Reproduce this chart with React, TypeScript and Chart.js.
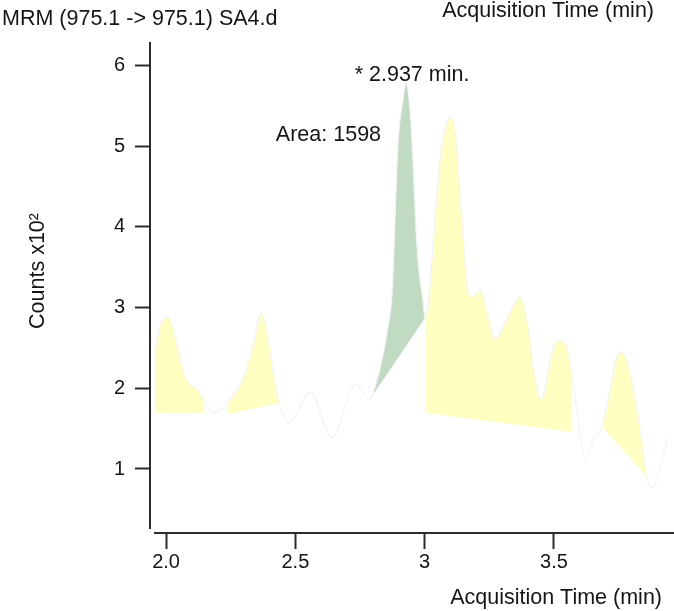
import React, { useEffect, useRef } from "react";
import { Chart, registerables } from "chart.js";

Chart.register(...registerables);

// Chromatogram trace (acquisition time in min, counts x10^2)
const TIME = [
  1.957, 1.977, 2.0, 2.023, 2.046, 2.073, 2.12, 2.147, 2.182, 2.24,
  2.286, 2.313, 2.344, 2.367, 2.39, 2.414, 2.437, 2.479, 2.557, 2.642,
  2.731, 2.789, 2.808, 2.835, 2.858, 2.874, 2.889, 2.897, 2.916, 2.928,
  2.943, 2.955, 2.963, 2.974, 2.993, 3.001, 3.013, 3.028, 3.044, 3.059,
  3.078, 3.102, 3.121, 3.136, 3.152, 3.167, 3.187, 3.214, 3.241, 3.272,
  3.303, 3.322, 3.368, 3.395, 3.419, 3.45, 3.492, 3.519, 3.554, 3.566,
  3.589, 3.62, 3.654, 3.685, 3.716, 3.736, 3.759, 3.794, 3.825, 3.859,
  3.883, 3.913, 3.94,
];
const COUNTS = [
  2.475, 2.772, 2.883, 2.784, 2.475, 2.14, 1.979, 1.855, 1.694, 1.83,
  2.041, 2.264, 2.636, 2.933, 2.685, 2.19, 1.818, 1.582, 1.954, 1.384,
  2.041, 1.867, 2.016, 2.351, 2.76, 3.181, 4.42, 5.04, 5.572, 5.783,
  5.449, 4.829, 4.209, 3.59, 3.094, 2.871, 2.995, 3.59, 4.27, 4.829,
  5.201, 5.362, 5.077, 4.42, 3.714, 3.181, 3.131, 3.218, 2.933, 2.599,
  2.76, 2.883, 3.131, 2.846, 2.264, 1.855, 2.437, 2.599, 2.437, 2.227,
  1.731, 1.136, 1.359, 1.52, 1.979, 2.314, 2.45, 2.19, 1.644, 0.901,
  0.765, 1.05, 1.397,
];

// Integrated peak regions
const PEAK_START = [1.957, 2.24, 2.789, 3.001, 3.685];
const PEAK_END = [2.147, 2.437, 3.001, 3.566, 3.859];
const BASE_START = [1.694, 1.682, 1.867, 1.694, 1.52];
const BASE_END = [1.694, 1.818, 2.871, 1.458, 0.901];
const PEAK_SELECTED = [false, false, true, false, false];

const X_TICKS = [2.0, 2.5, 3.0, 3.5];
const X_TICK_LABELS = ["2.0", "2.5", "3", "3.5"];
const Y_TICKS = [1, 2, 3, 4, 5, 6];

const TITLE = "MRM (975.1 -> 975.1) SA4.d";
const X_TITLE = "Acquisition Time (min)";
const Y_TITLE = "Counts x10²";
const PEAK_LABEL = "* 2.937 min.";
const AREA_LABEL = "Area: 1598";
const PEAK_TIME = 2.928;
const PEAK_COUNT = 5.783;

const FONT = "'Liberation Sans', Arial, sans-serif";
const TEXT = "#151515";
const AXIS = "#2b2b2b";

export default function App() {
  const ref = useRef<HTMLCanvasElement | null>(null);

  useEffect(() => {
    if (!ref.current) return;
    const trace = TIME.map((t, i) => ({ x: t, y: COUNTS[i] }));
    const n = PEAK_START.length;
    const regionSets: any[] = [];
    const baseSets: any[] = [];
    for (let i = 0; i < n; i++) {
      const pts = trace.filter(
        (p) => p.x >= PEAK_START[i] - 1e-9 && p.x <= PEAK_END[i] + 1e-9
      );
      regionSets.push({
        data: pts,
        borderColor: "rgba(0,0,0,0)",
        borderWidth: 0,
        pointRadius: 0,
        cubicInterpolationMode: "monotone",
        backgroundColor: PEAK_SELECTED[i] ? "#c1dbc3" : "#ffffc2",
        fill: 1 + n + i,
      });
      baseSets.push({
        data: [
          { x: PEAK_START[i], y: BASE_START[i] },
          { x: PEAK_END[i], y: BASE_END[i] },
        ],
        borderColor: "rgba(0,0,0,0)",
        borderWidth: 0,
        pointRadius: 0,
        fill: false,
      });
    }

    const overlay = {
      id: "overlay",
      afterDraw(chart: any) {
        const { ctx, chartArea } = chart;
        const xs = chart.scales.x;
        const ys = chart.scales.y;
        ctx.save();
        // axis lines
        ctx.strokeStyle = AXIS;
        ctx.lineWidth = 2;
        ctx.beginPath();
        ctx.moveTo(chartArea.left, chartArea.top);
        ctx.lineTo(chartArea.left, chartArea.bottom - 4);
        ctx.moveTo(chartArea.left + 4, chartArea.bottom);
        ctx.lineTo(chartArea.right, chartArea.bottom);
        ctx.stroke();

        ctx.fillStyle = TEXT;
        ctx.font = `21.5px ${FONT}`;
        ctx.textBaseline = "middle";
        ctx.textAlign = "left";
        ctx.fillText(TITLE, 2, 19);
        ctx.textAlign = "right";
        ctx.fillText(X_TITLE, 654, 11);
        ctx.fillText(X_TITLE, 662, 598);

        ctx.save();
        ctx.translate(38, 271);
        ctx.rotate(-Math.PI / 2);
        ctx.textAlign = "center";
        ctx.fillText(Y_TITLE, 0, 0);
        ctx.restore();

        const px = xs.getPixelForValue(PEAK_TIME);
        const py = ys.getPixelForValue(PEAK_COUNT);
        ctx.font = `21.5px ${FONT}`;
        ctx.textAlign = "center";
        ctx.fillText(PEAK_LABEL, px + 6, py - 8);
        ctx.textAlign = "right";
        ctx.fillText(AREA_LABEL, px - 25, py + 52);
        ctx.restore();
      },
    };

    const chart = new Chart(ref.current, {
      type: "line",
      data: {
        datasets: [
          {
            data: trace,
            borderColor: "#f3f3f3",
            borderWidth: 1.2,
            pointRadius: 0,
            cubicInterpolationMode: "monotone",
            fill: false,
          },
          ...regionSets,
          ...baseSets,
        ],
      },
      options: {
        animation: false,
        responsive: false,
        devicePixelRatio: 1,
        layout: { padding: { left: 0, right: 0, top: 42, bottom: 0 } },
        plugins: {
          legend: { display: false },
          tooltip: { enabled: false },
          title: { display: false },
        },
        scales: {
          x: {
            type: "linear",
            min: 1.938,
            max: 3.964,
            afterFit: (s: any) => {
              s.height = 78;
            },
            afterBuildTicks: (s: any) => {
              s.ticks = X_TICKS.map((v) => ({ value: v }));
            },
            ticks: {
              font: { family: FONT, size: 20 },
              color: TEXT,
              padding: 1,
              maxRotation: 0,
              autoSkip: false,
              callback: (v: any) => {
                const i = X_TICKS.findIndex((t) => Math.abs(t - v) < 1e-6);
                return i >= 0 ? X_TICK_LABELS[i] : "";
              },
            },
            grid: {
              display: true,
              drawOnChartArea: false,
              drawTicks: true,
              tickLength: 16,
              tickWidth: 2,
              tickColor: AXIS,
            },
            border: { display: false },
          },
          y: {
            type: "linear",
            min: 0.207,
            max: 6.29,
            afterFit: (s: any) => {
              s.width = 150;
            },
            afterBuildTicks: (s: any) => {
              s.ticks = Y_TICKS.map((v) => ({ value: v }));
            },
            ticks: {
              font: { family: FONT, size: 20 },
              color: TEXT,
              padding: 10,
              autoSkip: false,
              callback: (v: any) => String(v),
            },
            grid: {
              display: true,
              drawOnChartArea: false,
              drawTicks: true,
              tickLength: 15,
              tickWidth: 2,
              tickColor: AXIS,
            },
            border: { display: false },
          },
        },
      },
      plugins: [overlay],
    });
    return () => chart.destroy();
  }, []);

  return (
    <div
      style={{
        position: "fixed",
        left: 0,
        top: 0,
        width: 674,
        height: 611,
        background: "#fff",
      }}
    >
      <canvas ref={ref} width={674} height={611} />
    </div>
  );
}
